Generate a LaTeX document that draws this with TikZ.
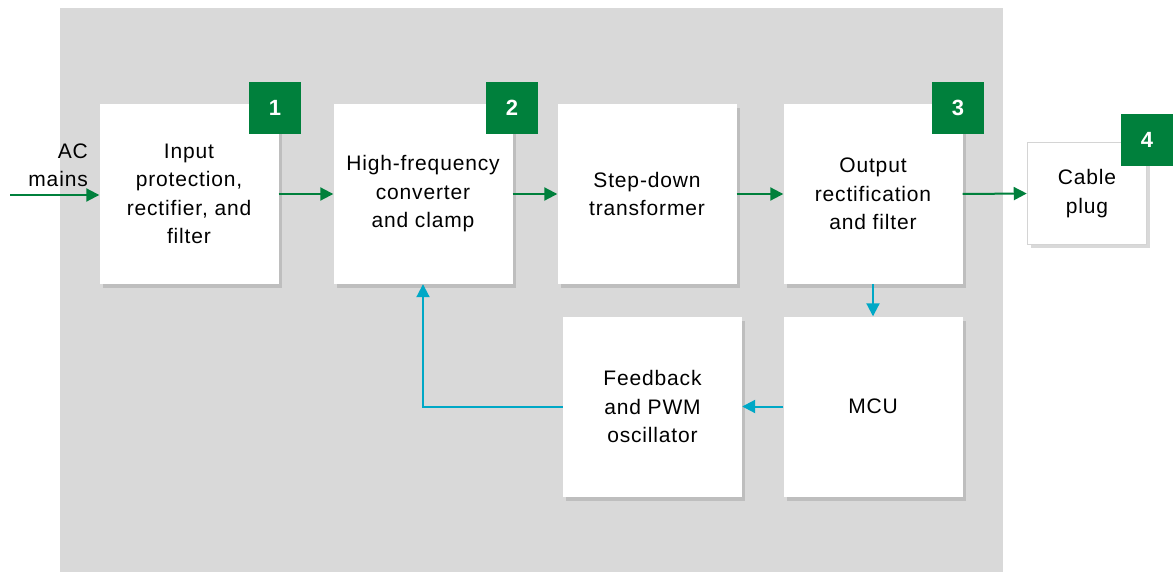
\documentclass[tikz,border=0pt]{standalone}
\usepackage{fontspec}
\setmainfont{Liberation Sans}[LetterSpace=4]
\newfontfamily\badgefont{Liberation Sans}
\usetikzlibrary{arrows.meta,shadows}
\definecolor{bg}{HTML}{D9D9D9}
\definecolor{gr}{HTML}{00803C}
\definecolor{cy}{HTML}{00A8C6}
\definecolor{plugborder}{HTML}{D4D4D4}
\begin{document}
\begin{tikzpicture}[x=1pt,y=-1pt,
  txt/.style={font=\fontsize{21}{28.5}\selectfont, align=center},
  blk/.style={txt, fill=white, draw=none, inner sep=0pt,
    minimum width=179pt, minimum height=180pt,
    drop shadow={shadow xshift=3pt,shadow yshift=-4pt,opacity=0.3}},
  plug/.style={txt, fill=white, draw=plugborder, line width=1.5pt, inner sep=0pt,
    minimum width=119pt, minimum height=102pt,
    drop shadow={shadow xshift=3pt,shadow yshift=-4pt,opacity=0.3}},
  badge/.style={fill=gr, text=white, inner sep=0pt, minimum size=52pt,
    font=\badgefont\fontsize{22}{26}\selectfont\bfseries},
  garrow/.style={draw=gr, line width=2pt, -{Triangle[length=13pt,width=13pt]}},
  carrow/.style={draw=cy, line width=2pt, -{Triangle[length=13pt,width=13pt]}}]
\useasboundingbox (0,0) rectangle (1173,572);
\fill[bg] (60,8) rectangle (1003,572);

\node[blk] (b1) at (189,194) {Input\\protection,\\rectifier, and\\filter};
\node[blk] (b2) at (423,194) {High-frequency\\converter\\and clamp};
\node[blk] (b3) at (647,194) {Step-down\\transformer};
\node[blk] (b4) at (873,194) {Output\\rectification\\and filter};
\node[plug] (cp) at (1087,193.5) {Cable\\plug};
\node[blk] (fb) at (652.5,406.5) {Feedback\\and PWM\\oscillator};
\node[blk] (mcu) at (873,406.5) {MCU};

\node[badge] (n1) at (275,108) {1};
\node[badge] (n2) at (512,108) {2};
\node[badge] (n3) at (958,108) {3};
\node[badge] (n4) at (1147,140) {4};

\node[txt, align=right, anchor=south east, inner sep=0pt] (ac) at (88,187) {AC\\mains};
\coordinate (acs) at (10,195);

\draw[garrow] (acs) -- (acs -| b1.west);
\draw[garrow] (b1.east) -- (b2.west);
\draw[garrow] (b2.east) -- (b3.west);
\draw[garrow] (b3.east) -- (b4.west);
\draw[garrow] (b4.east) -- (cp.west);
\draw[carrow] (b4.south) -- (mcu.north);
\draw[carrow] (mcu.west) -- (fb.east);
\draw[carrow] (fb.west) -| (b2.south);
\end{tikzpicture}
\end{document}
